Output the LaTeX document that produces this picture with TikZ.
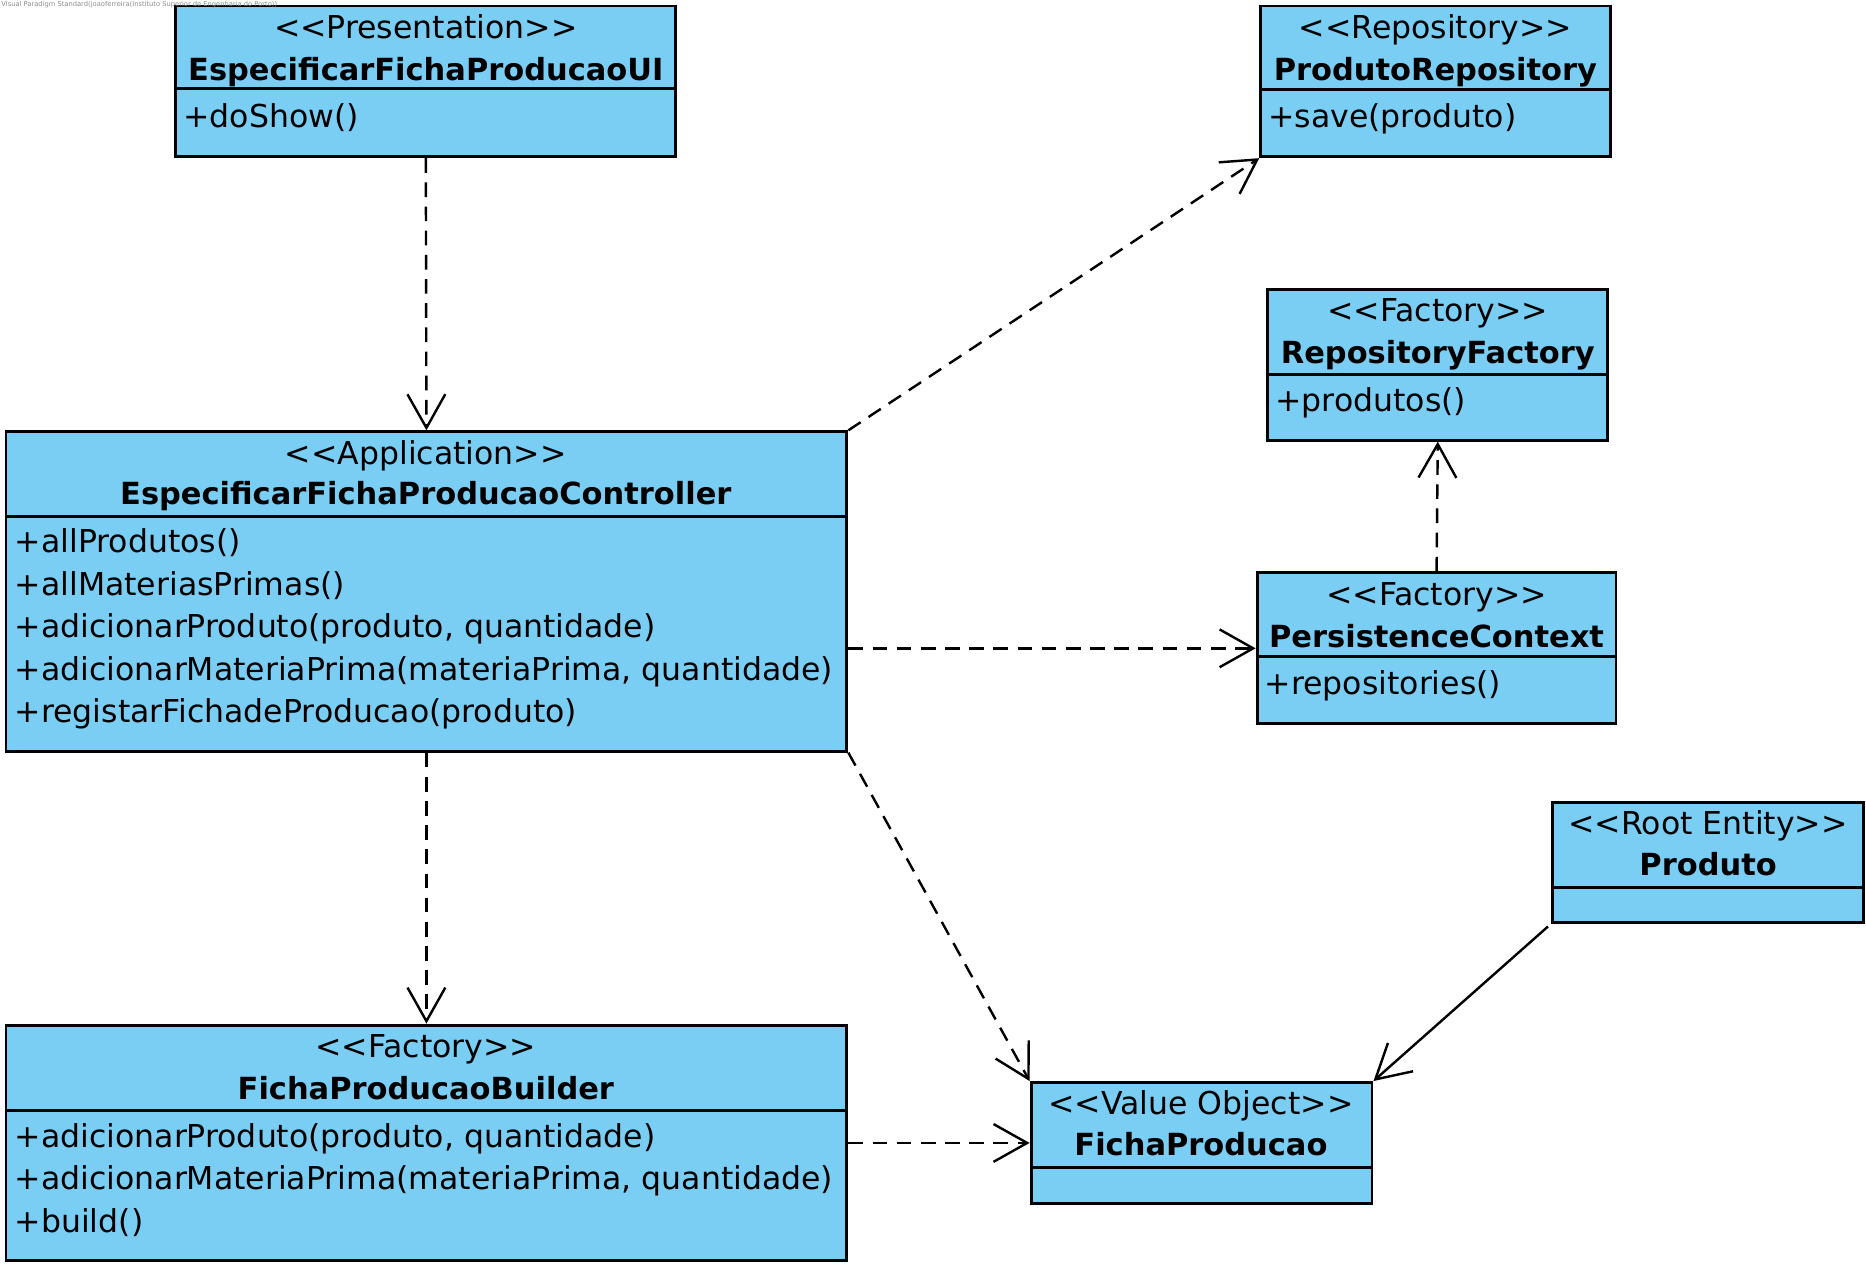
\documentclass[tikz,border=0pt]{standalone}
\usepackage{fontspec}
\setmainfont{DejaVu Sans}
\usetikzlibrary{arrows.meta,fit}
\definecolor{classblue}{RGB}{122,206,244}
\tikzset{
  classbox/.style={draw, fill=classblue, line width=1.4pt, inner sep=0pt},
  divider/.style={line width=1.4pt},
  stereotype/.style={anchor=base, inner sep=0pt, font=\fontsize{15}{18}\selectfont},
  classname/.style={anchor=base, inner sep=0pt, font=\fontsize{14.5}{18}\selectfont\bfseries},
  method/.style={anchor=base west, inner sep=0pt, font=\fontsize{15}{18}\selectfont},
  dependency/.style={draw, line width=1.15pt, dash pattern=on 7pt off 4.5pt, -{Straight Barb[length=16pt,width=18pt]}},
  association/.style={draw, line width=1.15pt, -{Straight Barb[length=16pt,width=18pt]}}
}
\begin{document}
\begin{tikzpicture}[x=0.02cm,y=-0.02cm]
\useasboundingbox (0,0) rectangle (1560,1058.4);

% Classes
\node[classbox, fit={(147,5) (565,131)}] (ui) {};
\draw[divider] (147,74) -- (565,74);
\node[stereotype] (uiSt) at (356,32) {<{}<Presentation>{}>};
\node[classname] (uiName) at (356,67) {EspecificarFichaProducaoUI};
\node[method] (uiM) at (153,107) {+doShow()};

\node[classbox, fit={(1054,5) (1346,131)}] (repo) {};
\draw[divider] (1054,75) -- (1346,75);
\node[stereotype] (repoSt) at (1200,32) {<{}<Repository>{}>};
\node[classname] (repoName) at (1200,67) {ProdutoRepository};
\node[method] (repoM) at (1060,107) {+save(produto)};

\node[classbox, fit={(1060,242) (1344,368)}] (rf) {};
\draw[divider] (1060,313) -- (1344,313);
\node[stereotype] (rfSt) at (1202,269) {<{}<Factory>{}>};
\node[classname] (rfName) at (1202,304) {RepositoryFactory};
\node[method] (rfM) at (1066,344) {+produtos()};

\node[classbox, fit={(1051,479) (1351,605)}] (pc) {};
\draw[divider] (1051,549) -- (1351,549);
\node[stereotype] (pcSt) at (1201,506) {<{}<Factory>{}>};
\node[classname] (pcName) at (1201,541) {PersistenceContext};
\node[method] (pcM) at (1057,581) {+repositories()};

\node[classbox, fit={(5,361) (708,628)}] (ctrl) {};
\draw[divider] (5,432) -- (708,432);
\node[stereotype] (ctrlSt) at (356,388) {<{}<Application>{}>};
\node[classname] (ctrlName) at (356,422) {EspecificarFichaProducaoController};
\foreach \m [count=\i from 0] in {+allProdutos(), +allMateriasPrimas(), {+adicionarProduto(produto, quantidade)}, {+adicionarMateriaPrima(materiaPrima, quantidade)}, +registarFichadeProducao(produto)}
  \node[method] (ctrlM\i) at (12,462+35.5*\i) {\m};

\node[classbox, fit={(1298,671) (1558,771)}] (produto) {};
\draw[divider] (1298,742) -- (1558,742);
\node[stereotype] (produtoSt) at (1428,698) {<{}<Root Entity>{}>};
\node[classname] (produtoName) at (1428,732) {Produto};

\node[classbox, fit={(5,857) (708,1054)}] (builder) {};
\draw[divider] (5,928) -- (708,928);
\node[stereotype] (builderSt) at (356,884) {<{}<Factory>{}>};
\node[classname] (builderName) at (356,919) {FichaProducaoBuilder};
\foreach \m [count=\i from 0] in {{+adicionarProduto(produto, quantidade)}, {+adicionarMateriaPrima(materiaPrima, quantidade)}, +build()}
  \node[method] (builderM\i) at (12,959+35.5*\i) {\m};

\node[classbox, fit={(862,905) (1147,1006)}] (fp) {};
\draw[divider] (862,976) -- (1147,976);
\node[stereotype] (fpSt) at (1004,932) {<{}<Value Object>{}>};
\node[classname] (fpName) at (1004,966) {FichaProducao};

% Dependencies
\draw[dependency] (ui.south) -- (ctrl.north);
\draw[dependency] (ctrl.north east) -- (repo.south west);
\draw[dependency] (ctrl.east |- pc.west) -- (pc.west);
\draw[dependency] (pc.north) -- (rf.south);
\draw[dependency] (ctrl.south) -- (builder.north);
\draw[dependency] (ctrl.south east) -- (fp.north west);
\draw[dependency] (builder.east |- fp.west) -- (fp.west);

% Association
\draw[association, shorten <=2pt] (produto.south west) -- (fp.north east);

% Watermark
\node[anchor=north west, inner sep=0.5pt, text=black!45, font=\fontsize{3.2}{4}\selectfont] (mark) at (0,0) {Visual Paradigm Standard(joaoferreira(Instituto Superior de Engenharia do Porto))};
\end{tikzpicture}
\end{document}
